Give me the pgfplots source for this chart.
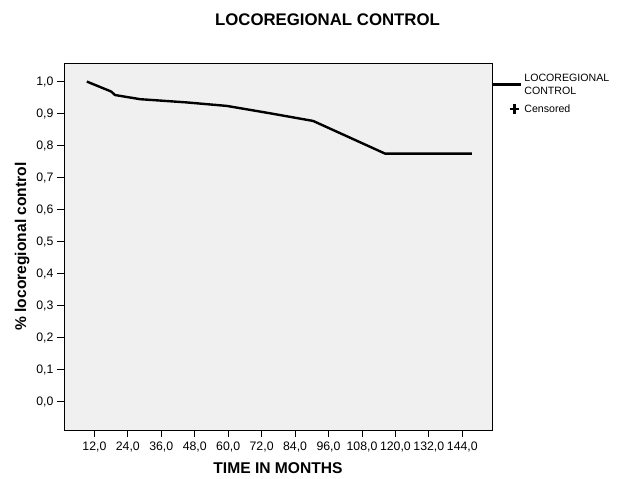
\documentclass[border=0pt]{standalone}
\usepackage{pgfplots}
\pgfplotsset{compat=1.18}
\usepackage{fontspec}
\setmainfont{Liberation Sans}
\definecolor{plotbg}{HTML}{F0F0F0}
\begin{document}
\begin{tikzpicture}
\useasboundingbox (0,0) rectangle (619bp,479bp);
\node[font=\bfseries\fontsize{16.8bp}{19bp}\selectfont] at (327.5bp,459bp) {LOCOREGIONAL CONTROL};
\begin{axis}[
  at={(64bp,49bp)}, anchor=south west,
  scale only axis, width=428bp, height=367bp,
  xmin=1.1, xmax=154.65, ymin=-0.088, ymax=1.058,
  axis background/.style={fill=plotbg},
  axis line style={black, line width=0.8bp},
  xtick={12,24,...,144},
  ytick={0,0.1,...,1.0},
  xtick pos=bottom, ytick pos=left,
  tick align=outside, major tick length=7bp,
  tick style={black, line width=0.8bp},
  /pgf/number format/.cd, use comma, fixed, fixed zerofill, precision=1, assume math mode=true,
  /pgfplots/.cd,
  tick label style={font=\fontsize{12.3bp}{14bp}\selectfont},
  xticklabel style={yshift=-1bp},
  xlabel={TIME IN MONTHS},
  ylabel={\% locoregional control},
  label style={font=\bfseries\fontsize{15.6bp}{18bp}\selectfont},
  xlabel style={at={(axis description cs:0.5,-0.1035)}, anchor=center},
  ylabel style={at={(axis description cs:-0.098,0.5)}, anchor=center},
  legend style={at={(1,0.977)}, anchor=north west, draw=none, fill=none,
    font=\fontsize{10.6bp}{13bp}\selectfont, inner xsep=0pt, inner ysep=0pt,
    row sep=5bp, nodes={align=left}},
  legend cell align=left,
]
\addplot[black, line width=2.4bp, line join=round,
  legend image code/.code={\draw[black, line width=2.2bp] (0bp,0bp) -- (28bp,0bp);}]
  coordinates {
  (9.3,1.0) (18.0,0.969) (19.4,0.958) (28.4,0.945) (45,0.935) (59.5,0.924)
  (75,0.901) (90.5,0.877) (116.3,0.775) (147.4,0.775)
};
\addlegendentry{LOCOREGIONAL\\CONTROL}
\addlegendimage{legend image code/.code={\draw[black, line width=2.6bp] (21bp,-4.8bp) -- (21bp,4.8bp) (16.2bp,0bp) -- (25.8bp,0bp);}}
\addlegendentry{Censored}
\end{axis}
\end{tikzpicture}
\end{document}
